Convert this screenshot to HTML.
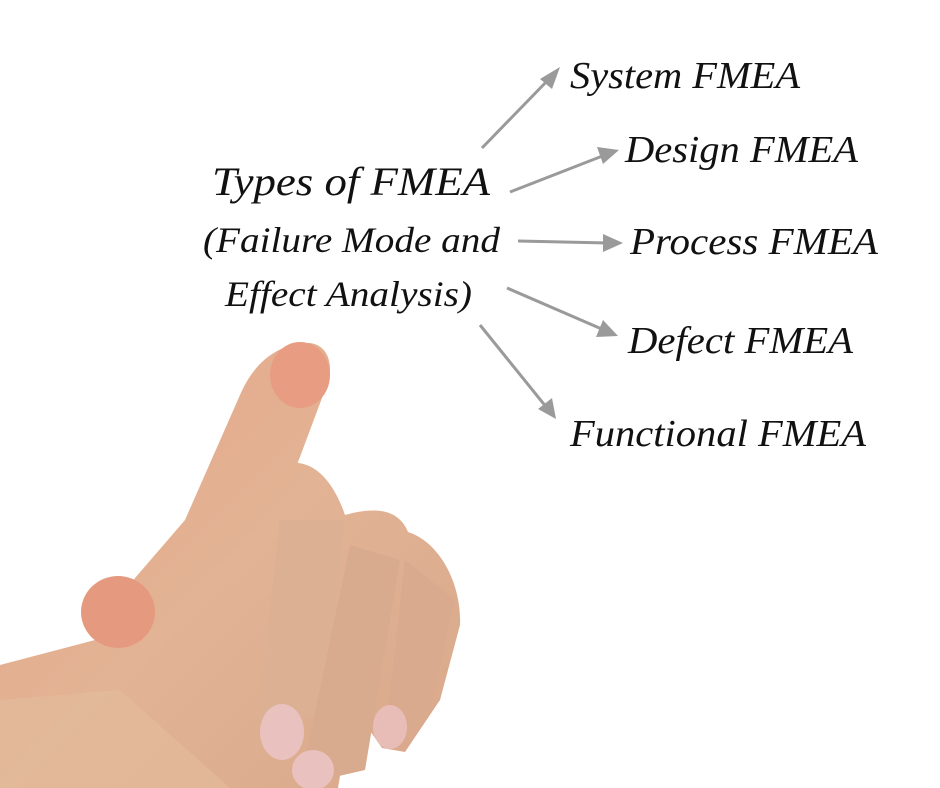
<!DOCTYPE html>
<html><head><meta charset="utf-8"><style>
html,body{margin:0;padding:0;background:#fff;}
svg{display:block;}
text{font-family:"Liberation Serif",serif;font-style:italic;fill:#111;}
</style></head><body>
<svg width="940" height="788" viewBox="0 0 940 788" xmlns="http://www.w3.org/2000/svg">
<defs>
<linearGradient id="sk" x1="0" y1="0" x2="1" y2="1">
<stop offset="0" stop-color="#e9a58a"/><stop offset="0.5" stop-color="#e2b394"/><stop offset="1" stop-color="#d9a88c"/>
</linearGradient>
</defs>
<!-- hand -->
<path d="M0,665 L95,640 L135,578 L185,520 L240,395 C255,360 280,343 310,343 C332,346 334,372 325,390 L282,505 L290,463 C318,460 336,488 345,515 C380,505 400,512 408,532 C440,542 462,585 460,625 L440,700 L405,752 L382,748 L352,705 L338,788 L0,788 Z" fill="url(#sk)"/>
<path d="M0,700 L120,690 L230,788 L0,788 Z" fill="#e3bd9c" opacity="0.6"/>
<ellipse cx="118" cy="612" rx="37" ry="36" fill="#e59a80"/>
<ellipse cx="300" cy="375" rx="30" ry="33" fill="#e89c82"/>
<path d="M280,520 L345,520 L325,715 L258,720 Z" fill="#dcb092"/>
<path d="M350,545 L400,560 L365,770 L300,785 Z" fill="#d8aa8e"/>
<path d="M405,560 L455,600 L430,710 L385,740 Z" fill="#d9aa8d"/>
<ellipse cx="282" cy="732" rx="22" ry="28" fill="#e9c1bf"/>
<ellipse cx="313" cy="770" rx="21" ry="20" fill="#e9c1bf"/>
<ellipse cx="390" cy="727" rx="17" ry="22" fill="#e8bdb8"/>
<!-- arrows -->
<g stroke="#9a9a9a" stroke-width="3" fill="#9a9a9a">
<line x1="482" y1="148" x2="550" y2="78"/><polygon points="560,67 540,79 552,89" stroke="none"/>
<line x1="510" y1="192" x2="605" y2="155"/><polygon points="619,150 597,147 603,164" stroke="none"/>
<line x1="518" y1="241" x2="608" y2="243"/><polygon points="623,243 603,234 603,252" stroke="none"/>
<line x1="507" y1="288" x2="604" y2="330"/><polygon points="618,336 603,320 596,337" stroke="none"/>
<line x1="480" y1="325" x2="547" y2="408"/><polygon points="556,419 552,398 538,409" stroke="none"/>
</g>
<!-- text -->
<text x="212" y="195" font-size="40" textLength="278" lengthAdjust="spacingAndGlyphs">Types of FMEA</text>
<text x="203" y="252" font-size="36" textLength="297" lengthAdjust="spacingAndGlyphs">(Failure Mode and</text>
<text x="225" y="306" font-size="36" textLength="247" lengthAdjust="spacingAndGlyphs">Effect Analysis)</text>
<text x="570" y="88" font-size="38" textLength="230" lengthAdjust="spacingAndGlyphs">System FMEA</text>
<text x="625" y="162" font-size="38" textLength="233" lengthAdjust="spacingAndGlyphs">Design FMEA</text>
<text x="630" y="254" font-size="38" textLength="248" lengthAdjust="spacingAndGlyphs">Process FMEA</text>
<text x="628" y="353" font-size="38" textLength="225" lengthAdjust="spacingAndGlyphs">Defect FMEA</text>
<text x="570" y="446" font-size="38" textLength="296" lengthAdjust="spacingAndGlyphs">Functional FMEA</text>
</svg>
</body></html>
